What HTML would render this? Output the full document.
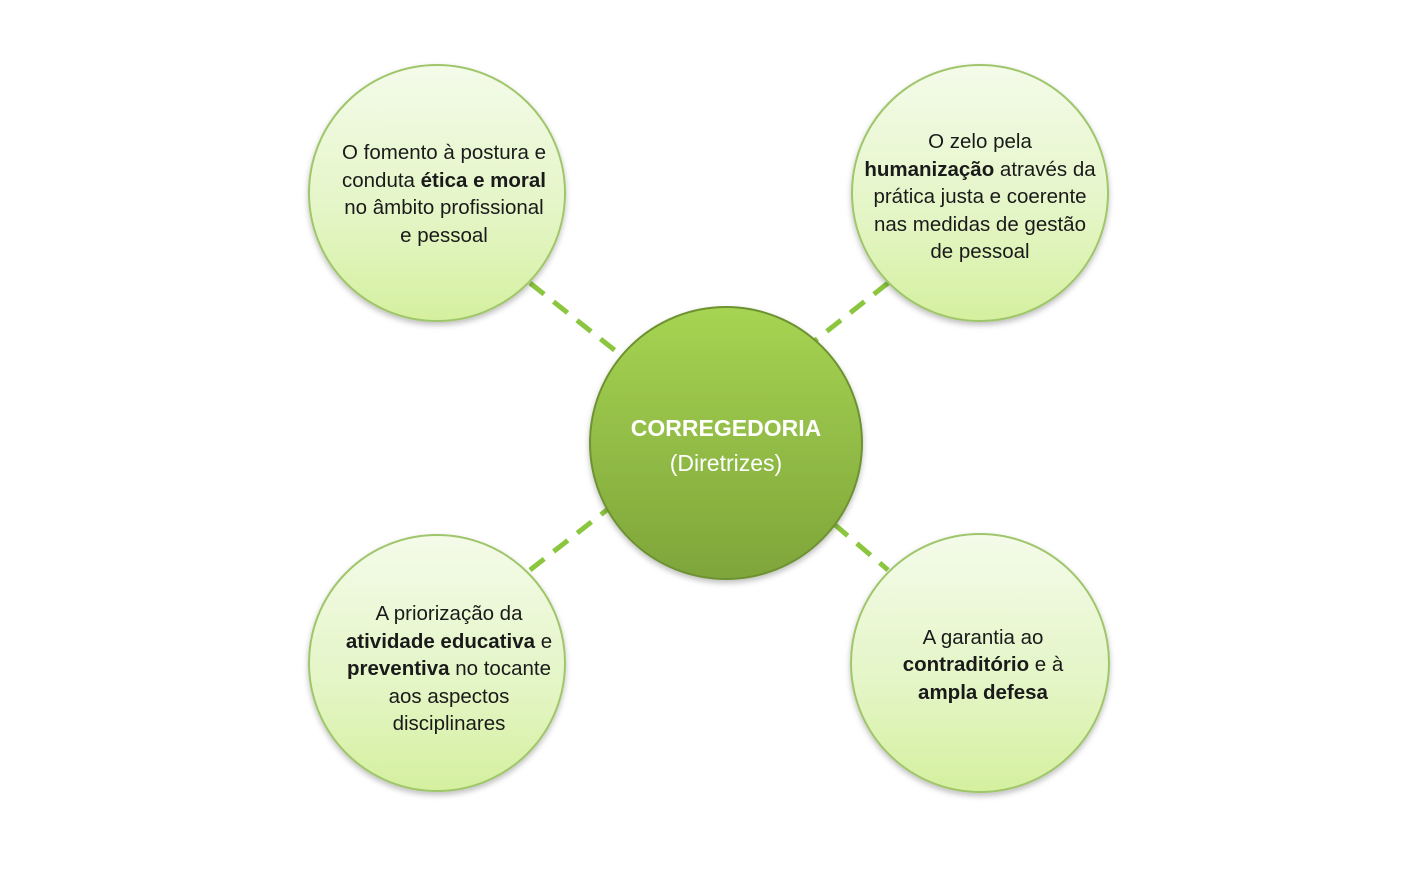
<!DOCTYPE html>
<html><head><meta charset="utf-8"><style>html,body{margin:0;padding:0;background:#fff}svg{display:block}</style></head>
<body>
<svg width="1408" height="888" viewBox="0 0 1408 888" xmlns="http://www.w3.org/2000/svg" font-family="Liberation Sans, sans-serif">
<defs>
<linearGradient id="g1" x1="0" y1="0" x2="0" y2="1">
<stop offset="0" stop-color="#f4fbea"/><stop offset="0.6" stop-color="#e3f5c4"/><stop offset="1" stop-color="#d5f09f"/>
</linearGradient>
<linearGradient id="g2" x1="0" y1="0" x2="0" y2="1">
<stop offset="0" stop-color="#a6d452"/><stop offset="1" stop-color="#7ea53a"/>
</linearGradient>
<filter id="sh" x="-20%" y="-20%" width="140%" height="140%"><feDropShadow dx="0" dy="3" stdDeviation="3" flood-color="#000" flood-opacity="0.25"/></filter>
</defs>
<g stroke="#8cc63f" stroke-width="5" stroke-dasharray="18,12" fill="none">
<line x1="530" y1="283" x2="622" y2="356"/>
<line x1="888" y1="283" x2="812" y2="343"/>
<line x1="530" y1="570" x2="608" y2="509"/>
<line x1="834" y1="524" x2="888" y2="570"/>
</g>
<g fill="url(#g1)" stroke="#9fc66a" stroke-width="2" filter="url(#sh)">
<circle cx="437" cy="193" r="128"/>
<circle cx="980" cy="193" r="128"/>
<circle cx="437" cy="663" r="128"/>
<circle cx="980" cy="663" r="129"/>
</g>
<circle cx="726" cy="443" r="136" fill="url(#g2)" stroke="#6e9232" stroke-width="2" filter="url(#sh)"/>
<g font-size="20.5" fill="#1a1a1a" text-anchor="middle">
<text x="444" y="159">O fomento à postura e</text>
<text x="444" y="187">conduta <tspan font-weight="bold">ética e moral</tspan></text>
<text x="444" y="214">no âmbito profissional</text>
<text x="444" y="242">e pessoal</text>
<text x="980" y="148">O zelo pela</text>
<text x="980" y="176"><tspan font-weight="bold">humanização</tspan> através da</text>
<text x="980" y="203">prática justa e coerente</text>
<text x="980" y="231">nas medidas de gestão</text>
<text x="980" y="258">de pessoal</text>
<text x="449" y="620">A priorização da</text>
<text x="449" y="648"><tspan font-weight="bold">atividade educativa</tspan> e</text>
<text x="449" y="675"><tspan font-weight="bold">preventiva</tspan> no tocante</text>
<text x="449" y="703">aos aspectos</text>
<text x="449" y="730">disciplinares</text>
<text x="983" y="644">A garantia ao</text>
<text x="983" y="671"><tspan font-weight="bold">contraditório</tspan> e à</text>
<text x="983" y="699"><tspan font-weight="bold">ampla defesa</tspan></text>
</g>
<text x="726" y="436" font-size="23" font-weight="bold" fill="#fff" text-anchor="middle">CORREGEDORIA</text>
<text x="726" y="471" font-size="23" fill="#fff" text-anchor="middle">(Diretrizes)</text>
</svg>
</body></html>
